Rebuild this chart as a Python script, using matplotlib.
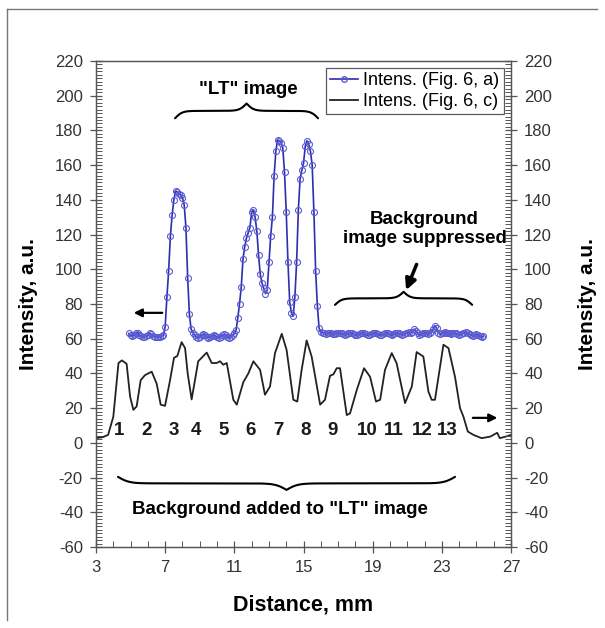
import numpy as np
import matplotlib
matplotlib.use("Agg")
import matplotlib.pyplot as plt
from matplotlib.ticker import MultipleLocator
from matplotlib.lines import Line2D

plt.rcParams['font.family'] = ['Liberation Sans', 'DejaVu Sans']
plt.rcParams['axes.unicode_minus'] = False

# Intens. (Fig. 6, a): profile sampled every 0.1 mm from 4.9 mm
xa_start = 4.9
xa_step = 0.1
ya = [63, 62, 61.5, 62, 63, 63.5, 62, 61.5, 61, 61, 61.5, 62, 63, 62.5, 61.5, 61, 61, 61, 61, 61.5, 62,
      67, 84, 99, 119, 131, 140, 145, 144.5, 143.5, 143, 141, 137, 124, 95, 74, 65.5, 63.5,
      62, 61, 60.5, 61, 62, 62.5, 62, 61, 60.5, 61, 61.5, 62, 61.5, 61, 60.5, 61, 62, 62.5, 62, 61, 60.5, 61, 62, 63,
      65, 72, 80, 90, 106, 113, 118, 121, 124, 133, 134, 130, 122, 108, 97, 92, 89, 86, 88,
      104, 119, 130, 154, 168, 174.5, 174, 173, 170, 156, 133, 104, 81, 75, 73, 84,
      104, 134, 152, 157, 161, 171, 174, 172, 168, 160, 133, 99, 79, 66, 64,
      63.5, 63, 62.5, 63, 63.5, 63, 62.5, 62.5, 63, 63.5,
      63.5, 63, 62.5, 62, 62.5, 63, 63.5, 63, 62.5, 62,
      62, 62.5, 63, 63.5, 63, 62.5, 62, 62, 62.5, 63,
      63.5, 63, 62.5, 62, 62, 62.5, 63, 63.5, 63, 62.5,
      62, 62.5, 63, 63.5, 63, 62.5, 62, 62.5, 63, 63.5,
      64, 63.5, 64, 65.5, 64.5, 63, 62, 62.5, 63, 63.5,
      63, 62.5, 63, 64, 65.5, 67.5, 66, 63.5, 62.5, 63,
      63.5, 64, 63.5, 63, 62.5, 63, 63.5, 63, 62.5, 62,
      62.5, 63, 63.5, 64, 63, 62.5, 62, 61.5, 62, 62.5,
      62, 61.5, 61, 61.5]

# Intens. (Fig. 6, c)
xc = [3.0, 3.4, 3.7, 4.0, 4.3, 4.5, 4.77, 4.97, 5.16, 5.35, 5.58, 5.83, 6.22, 6.51, 6.74,
      6.99, 7.28, 7.51, 7.70, 7.95, 8.15, 8.30, 8.53, 8.91, 9.40, 9.69, 9.98, 10.17, 10.36, 10.56,
      10.94, 11.14, 11.52, 11.81, 12.10, 12.49, 12.77, 13.06, 13.35, 13.74, 14.02, 14.41, 14.64, 14.89, 15.18,
      15.47, 15.96, 16.24, 16.53, 16.73, 16.92, 17.11, 17.50, 17.69, 18.08, 18.50, 18.85, 19.19, 19.43, 19.71,
      20.10, 20.38, 20.87, 21.26, 21.54, 21.93, 22.22, 22.41, 22.60, 23.09, 23.38, 23.76, 24.05, 24.25, 24.5,
      24.82, 25.3, 25.8, 26.2, 26.35, 26.7, 27.0]
yc = [2.7, 3.3, 4.6, 15, 46, 47.5, 45.5, 26.7, 19, 21, 36, 39, 41, 34, 22,
      21.3, 36, 49, 50, 58, 54.6, 40, 25, 47, 52, 46, 46, 47, 45, 46,
      24.8, 22, 35, 40, 47, 42, 27.7, 32.4, 51.7, 62.8, 53.6, 24.8, 23.8, 42, 59,
      49.7, 22, 24.8, 38.6, 39.5, 43, 43, 16, 17, 30.5, 43, 38, 23.8, 24.8, 42,
      51.7, 46, 22.9, 32.4, 52.3, 49.7, 29.6, 24.8, 24.8, 56.5, 54.6, 38, 20, 15, 6.5,
      4.6, 2.7, 3.6, 5.8, 2.7, 3.6, 4.6]

# stripe numbers and where they sit
stripe_labels = ['1', '2', '3', '4', '5', '6', '7', '8', '9', '10', '11', '12', '13']
stripe_x = [4.33, 5.93, 7.51, 8.79, 10.36, 11.95, 13.55, 15.10, 16.68, 18.66, 20.20, 21.84, 23.29]
stripe_y = 6.9

x_ticks = [3, 7, 11, 15, 19, 23, 27]

xa = xa_start + xa_step * np.arange(len(ya))

blue = '#2e2eb0'
fig = plt.figure(figsize=(6.05, 6.28), dpi=100)
ax = fig.add_axes([0.1587, 0.1290, 0.6860, 0.7739])

ax.plot(xa, ya, color=blue, lw=1.2, marker='o', ms=4.3, mfc='none', mec='#5c5cd2', mew=0.8,
        label='Intens. (Fig. 6, a)', zorder=3)
ax.plot(xc, yc, color='#222222', lw=1.3, label='Intens. (Fig. 6, c)', zorder=2)

ax.set_xlim(3, 27)
ax.set_ylim(-60, 220)
ax.set_xticks(x_ticks)
ax.xaxis.set_minor_locator(MultipleLocator(1))
ax.yaxis.set_major_locator(MultipleLocator(20))
ax.yaxis.set_minor_locator(MultipleLocator(2))

ax2 = ax.twinx()
ax2.set_ylim(-60, 220)
ax2.yaxis.set_major_locator(MultipleLocator(20))
ax2.yaxis.set_minor_locator(MultipleLocator(2))

for a in (ax, ax2):
    for s in a.spines.values():
        s.set_color('#555555')
        s.set_linewidth(0.9)
    a.tick_params(which='major', direction='inout', length=9, width=0.9, color='#555555',
                  labelsize=12, labelcolor='#333333', pad=5)
    a.tick_params(which='minor', direction='in', length=4, width=0.7, color='#555555')
ax.tick_params(axis='x', which='both', top=False)
ax.tick_params(axis='y', which='both', right=False)

ax.set_xlabel('Distance, mm', fontsize=15.5, fontweight='bold')
ax.set_ylabel('Intensity, a.u.', fontsize=15, fontweight='bold')
ax2.set_ylabel('Intensity, a.u.', fontsize=15, fontweight='bold', rotation=90)
ax.xaxis.set_label_coords(0.5, -0.097)
ax.yaxis.set_label_coords(-0.14, 0.5)
ax2.yaxis.set_label_coords(1.162, 0.5)

# legend
handles = [Line2D([], [], color=blue, lw=1.2, marker='o', ms=4, mfc='none', mec='#5c5cd2'),
           Line2D([], [], color='#222222', lw=1.3)]
leg = ax2.legend(handles, ['Intens. (Fig. 6, a)', 'Intens. (Fig. 6, c)'], loc='upper right',
                 bbox_to_anchor=(0.982, 0.986), borderaxespad=0, fontsize=13, frameon=True,
                 fancybox=False, handlelength=1.5, handletextpad=0.3, borderpad=0.25,
                 labelspacing=0.2, numpoints=1)
leg.get_frame().set_edgecolor('#333333')
leg.get_frame().set_linewidth(0.9)


def brace(axis, x0, x1, y_tip, h, beta=40.0):
    # curly brace: tips at y_tip, middle point at y_tip + h
    n = 301
    t = np.linspace(0, 0.5, n)
    half = 1 / (1 + np.exp(-beta * t)) + 1 / (1 + np.exp(-beta * (t - 0.5)))
    yy = np.concatenate([half, half[-2::-1]]) - 0.5
    xx = np.linspace(x0, x1, len(yy))
    axis.plot(xx, y_tip + yy * h, color='black', lw=1.5, solid_capstyle='round', zorder=4)


brace(ax, 7.57, 15.84, 187, 8.5)
brace(ax, 16.82, 24.75, 79.5, 7.5)
brace(ax, 4.27, 23.76, -19.6, -7.5, beta=60.0)

ax.text(11.79, 203.5, '"LT" image', ha='center', va='center', fontsize=13.5, fontweight='bold')
ax.text(22.0, 123, 'Background\nimage suppressed', ha='center', va='center', fontsize=13.5,
        fontweight='bold', linespacing=1.15)
ax.text(13.64, -38.6, 'Background added to "LT" image', ha='center', va='center',
        fontsize=13.5, fontweight='bold')

for lab, xs in zip(stripe_labels, stripe_x):
    ax.text(xs, stripe_y, lab, ha='center', va='center', fontsize=13.5, fontweight='bold',
            color='#1a1a1a')

arrow_kw = dict(arrowstyle='-|>', color='black', lw=1.6, mutation_scale=12)
ax.annotate('', xy=(20.87, 86.5), xytext=(21.6, 104.3), arrowprops=dict(arrowstyle='-|>', color='black',
            lw=2.5, mutation_scale=16))
ax.annotate('', xy=(5.02, 74.9), xytext=(6.99, 74.9), arrowprops=arrow_kw)
ax.annotate('', xy=(26.37, 14.4), xytext=(24.63, 14.4), arrowprops=arrow_kw)

# thin frame around the picture (left and top only visible)
fig.add_artist(Line2D([7 / 605, 7 / 605], [1 - 9 / 628, 1 - 620 / 628], color='#777777', lw=1))
fig.add_artist(Line2D([7 / 605, 597 / 605], [1 - 9 / 628, 1 - 9 / 628], color='#777777', lw=1))

fig.savefig('out.png', dpi=100)
